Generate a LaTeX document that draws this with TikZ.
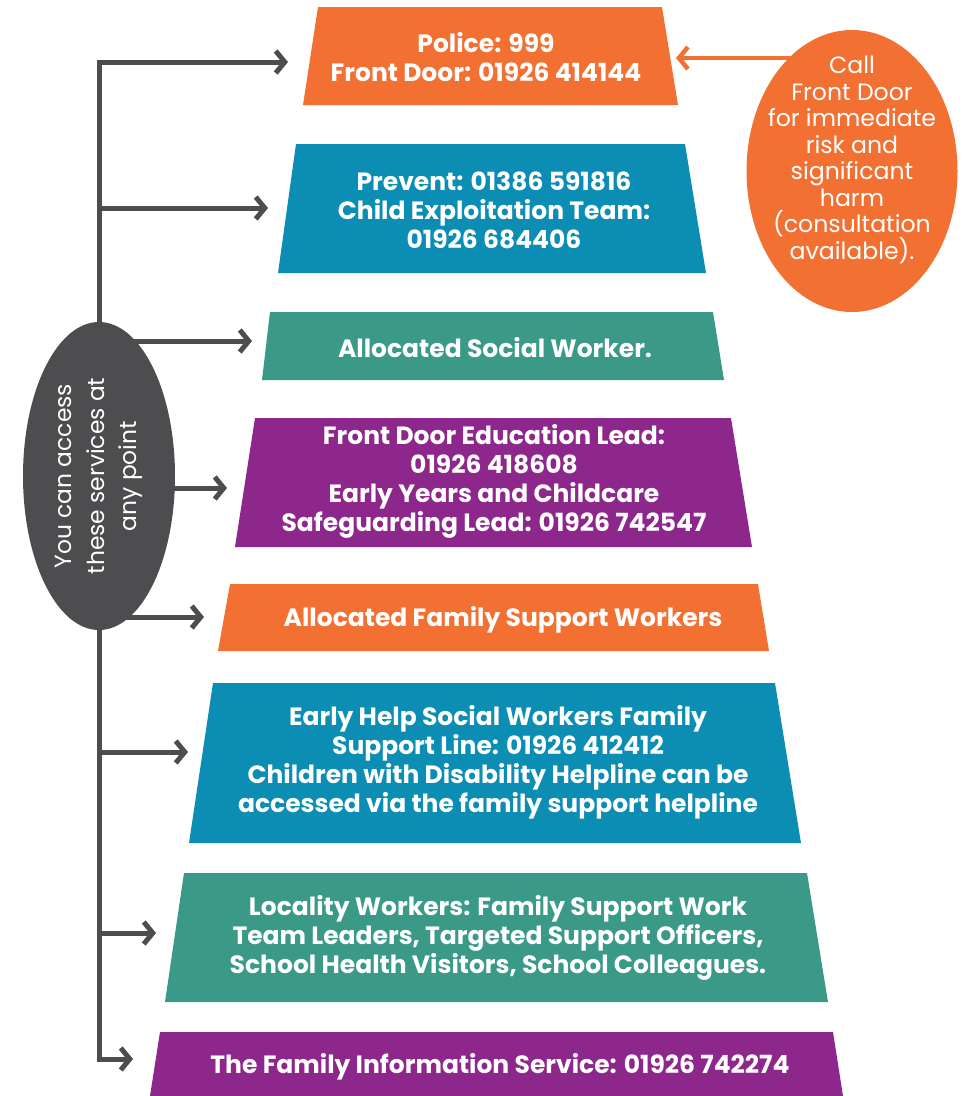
\documentclass[tikz,border=0pt]{standalone}
\usepackage{fontspec}
\setmainfont{Poppins}
\usetikzlibrary{arrows.meta,shapes.geometric}
\definecolor{corange}{HTML}{F37033}
\definecolor{cblue}{HTML}{0B8DB4}
\definecolor{cteal}{HTML}{3A9987}
\definecolor{cpurple}{HTML}{8E278C}
\definecolor{cgray}{HTML}{4D4D4F}
\begin{document}
\begin{tikzpicture}[x=1pt,y=-1pt,
  band/.style={text=white,font=\bfseries\fontsize{25}{29}\selectfont,align=center,inner sep=0pt},
  conn/.style={cgray,line width=5pt,line join=miter,-{Straight Barb[length=9pt,width=22pt]}},
  callconn/.style={corange,line width=4.5pt,-{Straight Barb[length=9pt,width=22pt]}},
  oval/.style={ellipse,inner sep=0pt,draw=none},
  ovaltext/.style={text=white,align=center,inner sep=0pt}
]
\useasboundingbox (0,0) rectangle (964,1096);
% bands
\fill[corange] (318,7) -- (662,7) -- (678,105) -- (303,105) -- cycle;
\fill[cblue] (296,144) -- (685,144) -- (706,273) -- (278,273) -- cycle;
\fill[cteal] (270,312) -- (713,312) -- (724,380) -- (262,380) -- cycle;
\fill[cpurple] (255,418) -- (731,418) -- (752,547) -- (235,547) -- cycle;
\fill[corange] (230,584) -- (758,584) -- (769,651) -- (218,651) -- cycle;
\fill[cblue] (213,683) -- (775,683) -- (801,843) -- (189,843) -- cycle;
\fill[cteal] (184,873) -- (807,873) -- (828,1002) -- (165,1002) -- cycle;
\fill[cpurple] (160,1032) -- (833,1032) -- (843,1096) -- (150,1096) -- cycle;
\node[band] (police) at (486,57) {Police: 999\\Front Door: 01926 414144};
\node[band] (prevent) at (494,210) {Prevent: 01386 591816\\Child Exploitation Team:\\01926 684406};
\node[band] (social) at (495,348) {Allocated Social Worker.};
\node[band] (educ) at (494,481) {Front Door Education Lead:\\01926 418608\\Early Years and Childcare\\Safeguarding Lead: 01926 742547};
\node[band] (famsup) at (503,620) {Allocated Family Support Workers};
\node[band] (early) at (498,762) {Early Help Social Workers Family\\Support Line: 01926 412412\\Children with Disability Helpline can be\\accessed via the family support helpline};
\node[band] (local) at (498,938) {Locality Workers: Family Support Work\\Team Leaders, Targeted Support Officers,\\School Health Visitors, School Colleagues.};
\node[band] (fis) at (500,1067) {The Family Information Service: 01926 742274};
% connectors
\coordinate (top) at (99,62);
\coordinate (bot) at (99,1059);
\coordinate (a1) at (288,62);
\coordinate (a2) at (268,208);
\coordinate (a3) at (252,341);
\coordinate (a4) at (227,488);
\coordinate (a5) at (204,617);
\coordinate (a6) at (188,752);
\coordinate (a7) at (156,933);
\coordinate (a8) at (133,1059);
\draw[conn] (bot) -- (top) -- (a1);
\draw[conn] (top) -- (bot) -- (a8);
\foreach \t in {a2,a3,a4,a5,a6,a7} \draw[conn] (top |- \t) -- (\t);
\node[oval,fill=cgray,minimum width=152pt,minimum height=308pt] (access) at (99,476) {};
\node[ovaltext,rotate=90,font=\fontsize{23.4}{32.5}\selectfont] (accesstext) at (99,476) {You can access\\these services at\\any point};
% call front door
\coordinate (a0) at (676,58);
\node[oval,fill=corange,minimum width=211pt,minimum height=282pt] (call) at (852,171) {};
\draw[callconn] (call.center |- a0) -- (a0);
\node[ovaltext,font=\fontsize{23.6}{26.5}\selectfont] (calltext) at (852,160) {Call\\Front Door\\for immediate\\risk and\\significant\\harm\\(consultation\\available).};
\end{tikzpicture}
\end{document}
